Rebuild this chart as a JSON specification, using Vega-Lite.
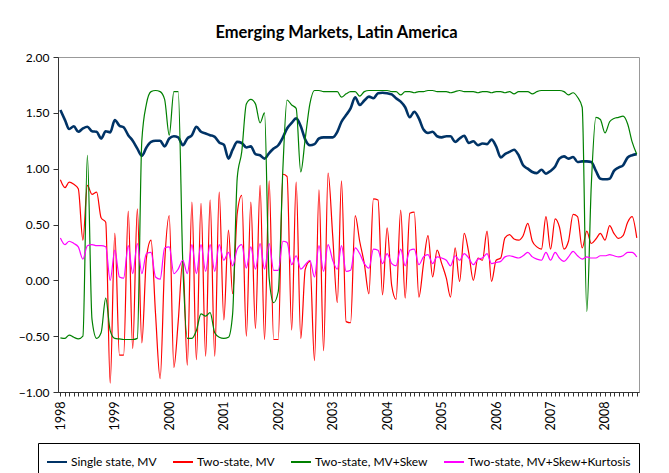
{
  "$schema": "https://vega.github.io/schema/vega-lite/v6.json",
  "width": 581,
  "height": 335,
  "autosize": {"type": "none"},
  "padding": {"left": 58, "top": 57, "right": 30, "bottom": 81},
  "background": "white",
  "title": {"text": "Emerging Markets, Latin America", "font": "Lato", "fontSize": 16.5, "fontWeight": "bold", "color": "black", "anchor": "middle", "offset": 10, "dx": -12},
  "data": {
    "format": {"parse": {"d": "date:'%Y-%m'"}},
    "values": [
      {"d":"1998-01","a":1.525,"b":0.90,"c":-0.515,"k":0.38},
      {"d":"1998-02","a":1.435,"b":0.83,"c":-0.52,"k":0.32},
      {"d":"1998-03","a":1.355,"b":0.88,"c":-0.49,"k":0.35},
      {"d":"1998-04","a":1.38,"b":0.86,"c":-0.51,"k":0.33},
      {"d":"1998-05","a":1.33,"b":0.82,"c":-0.525,"k":0.30},
      {"d":"1998-06","a":1.36,"b":0.36,"c":-0.50,"k":0.19},
      {"d":"1998-07","a":1.375,"b":0.85,"c":1.12,"k":0.31},
      {"d":"1998-08","a":1.335,"b":0.77,"c":-0.35,"k":0.32},
      {"d":"1998-09","a":1.33,"b":0.79,"c":-0.52,"k":0.31},
      {"d":"1998-10","a":1.27,"b":0.56,"c":-0.47,"k":0.31},
      {"d":"1998-11","a":1.335,"b":0.52,"c":-0.16,"k":0.30},
      {"d":"1998-12","a":1.325,"b":-0.92,"c":-0.45,"k":0.00},
      {"d":"1999-01","a":1.435,"b":0.42,"c":-0.52,"k":0.27},
      {"d":"1999-02","a":1.385,"b":-0.67,"c":-0.525,"k":0.03},
      {"d":"1999-03","a":1.37,"b":-0.67,"c":-0.53,"k":0.02},
      {"d":"1999-04","a":1.30,"b":0.62,"c":-0.53,"k":0.31},
      {"d":"1999-05","a":1.25,"b":-0.61,"c":-0.53,"k":0.06},
      {"d":"1999-06","a":1.18,"b":0.64,"c":-0.52,"k":0.33},
      {"d":"1999-07","a":1.115,"b":-0.56,"c":1.25,"k":0.06},
      {"d":"1999-08","a":1.19,"b":0.20,"c":1.58,"k":0.24},
      {"d":"1999-09","a":1.24,"b":0.36,"c":1.69,"k":0.25},
      {"d":"1999-10","a":1.25,"b":-0.30,"c":1.70,"k":0.03},
      {"d":"1999-11","a":1.25,"b":-0.88,"c":1.69,"k":0.01},
      {"d":"1999-12","a":1.20,"b":0.15,"c":1.62,"k":0.29},
      {"d":"2000-01","a":1.27,"b":0.58,"c":1.30,"k":0.30},
      {"d":"2000-02","a":1.29,"b":-0.78,"c":1.69,"k":0.06},
      {"d":"2000-03","a":1.28,"b":-0.37,"c":1.69,"k":0.10},
      {"d":"2000-04","a":1.21,"b":0.18,"c":0.15,"k":0.18},
      {"d":"2000-05","a":1.27,"b":-0.76,"c":-0.52,"k":0.06},
      {"d":"2000-06","a":1.30,"b":0.70,"c":-0.52,"k":0.32},
      {"d":"2000-07","a":1.375,"b":-0.71,"c":-0.45,"k":0.06},
      {"d":"2000-08","a":1.33,"b":0.69,"c":-0.30,"k":0.32},
      {"d":"2000-09","a":1.315,"b":-0.68,"c":-0.32,"k":0.08},
      {"d":"2000-10","a":1.30,"b":0.72,"c":-0.29,"k":0.32},
      {"d":"2000-11","a":1.285,"b":-0.68,"c":-0.47,"k":0.08},
      {"d":"2000-12","a":1.235,"b":0.79,"c":-0.51,"k":0.32},
      {"d":"2001-01","a":1.215,"b":-0.355,"c":-0.52,"k":0.18},
      {"d":"2001-02","a":1.09,"b":0.45,"c":-0.51,"k":0.25},
      {"d":"2001-03","a":1.17,"b":-0.12,"c":-0.30,"k":0.13},
      {"d":"2001-04","a":1.24,"b":0.60,"c":0.92,"k":0.28},
      {"d":"2001-05","a":1.23,"b":0.76,"c":1.15,"k":0.32},
      {"d":"2001-06","a":1.19,"b":-0.50,"c":1.58,"k":0.11},
      {"d":"2001-07","a":1.20,"b":0.70,"c":1.62,"k":0.30},
      {"d":"2001-08","a":1.13,"b":-0.43,"c":1.58,"k":0.10},
      {"d":"2001-09","a":1.12,"b":0.85,"c":1.41,"k":0.33},
      {"d":"2001-10","a":1.09,"b":-0.53,"c":1.50,"k":0.10},
      {"d":"2001-11","a":1.14,"b":0.89,"c":0.02,"k":0.33},
      {"d":"2001-12","a":1.18,"b":-0.53,"c":-0.20,"k":0.09},
      {"d":"2002-01","a":1.21,"b":-0.53,"c":-0.10,"k":0.09},
      {"d":"2002-02","a":1.28,"b":0.95,"c":1.00,"k":0.35},
      {"d":"2002-03","a":1.36,"b":0.93,"c":1.615,"k":0.34},
      {"d":"2002-04","a":1.41,"b":-0.445,"c":1.57,"k":0.14},
      {"d":"2002-05","a":1.45,"b":0.88,"c":1.54,"k":0.22},
      {"d":"2002-06","a":1.38,"b":-0.52,"c":0.97,"k":0.10},
      {"d":"2002-07","a":1.26,"b":0.10,"c":1.27,"k":0.14},
      {"d":"2002-08","a":1.21,"b":0.17,"c":1.58,"k":0.18},
      {"d":"2002-09","a":1.22,"b":-0.72,"c":1.70,"k":0.03},
      {"d":"2002-10","a":1.27,"b":0.81,"c":1.70,"k":0.31},
      {"d":"2002-11","a":1.28,"b":-0.63,"c":1.69,"k":0.08},
      {"d":"2002-12","a":1.28,"b":0.96,"c":1.69,"k":0.32},
      {"d":"2003-01","a":1.28,"b":0.40,"c":1.69,"k":0.18},
      {"d":"2003-02","a":1.33,"b":-0.20,"c":1.69,"k":0.10},
      {"d":"2003-03","a":1.42,"b":0.89,"c":1.64,"k":0.31},
      {"d":"2003-04","a":1.48,"b":-0.37,"c":1.67,"k":0.08},
      {"d":"2003-05","a":1.54,"b":-0.38,"c":1.69,"k":0.09},
      {"d":"2003-06","a":1.64,"b":0.58,"c":1.69,"k":0.29},
      {"d":"2003-07","a":1.57,"b":0.35,"c":1.65,"k":0.24},
      {"d":"2003-08","a":1.61,"b":0.15,"c":1.69,"k":0.15},
      {"d":"2003-09","a":1.645,"b":-0.12,"c":1.70,"k":0.11},
      {"d":"2003-10","a":1.63,"b":0.73,"c":1.70,"k":0.28},
      {"d":"2003-11","a":1.675,"b":0.72,"c":1.70,"k":0.27},
      {"d":"2003-12","a":1.68,"b":-0.13,"c":1.70,"k":0.15},
      {"d":"2004-01","a":1.675,"b":0.47,"c":1.70,"k":0.24},
      {"d":"2004-02","a":1.665,"b":-0.05,"c":1.69,"k":0.15},
      {"d":"2004-03","a":1.63,"b":-0.17,"c":1.69,"k":0.13},
      {"d":"2004-04","a":1.60,"b":0.63,"c":1.66,"k":0.28},
      {"d":"2004-05","a":1.55,"b":-0.16,"c":1.69,"k":0.13},
      {"d":"2004-06","a":1.46,"b":0.60,"c":1.69,"k":0.27},
      {"d":"2004-07","a":1.51,"b":0.61,"c":1.68,"k":0.28},
      {"d":"2004-08","a":1.45,"b":-0.15,"c":1.69,"k":0.14},
      {"d":"2004-09","a":1.35,"b":0.15,"c":1.69,"k":0.21},
      {"d":"2004-10","a":1.32,"b":0.40,"c":1.70,"k":0.23},
      {"d":"2004-11","a":1.33,"b":0.03,"c":1.70,"k":0.15},
      {"d":"2004-12","a":1.29,"b":0.27,"c":1.69,"k":0.21},
      {"d":"2005-01","a":1.28,"b":0.15,"c":1.69,"k":0.20},
      {"d":"2005-02","a":1.29,"b":0.02,"c":1.69,"k":0.18},
      {"d":"2005-03","a":1.29,"b":-0.15,"c":1.68,"k":0.13},
      {"d":"2005-04","a":1.24,"b":0.29,"c":1.69,"k":0.22},
      {"d":"2005-05","a":1.27,"b":-0.01,"c":1.70,"k":0.18},
      {"d":"2005-06","a":1.295,"b":0.42,"c":1.69,"k":0.24},
      {"d":"2005-07","a":1.23,"b":0.25,"c":1.69,"k":0.20},
      {"d":"2005-08","a":1.245,"b":0.00,"c":1.69,"k":0.14},
      {"d":"2005-09","a":1.21,"b":0.20,"c":1.68,"k":0.19},
      {"d":"2005-10","a":1.225,"b":0.18,"c":1.69,"k":0.20},
      {"d":"2005-11","a":1.22,"b":0.44,"c":1.69,"k":0.24},
      {"d":"2005-12","a":1.26,"b":-0.01,"c":1.68,"k":0.15},
      {"d":"2006-01","a":1.20,"b":0.18,"c":1.69,"k":0.16},
      {"d":"2006-02","a":1.10,"b":0.20,"c":1.69,"k":0.17},
      {"d":"2006-03","a":1.13,"b":0.38,"c":1.68,"k":0.21},
      {"d":"2006-04","a":1.15,"b":0.41,"c":1.69,"k":0.22},
      {"d":"2006-05","a":1.17,"b":0.37,"c":1.67,"k":0.21},
      {"d":"2006-06","a":1.12,"b":0.36,"c":1.69,"k":0.20},
      {"d":"2006-07","a":1.03,"b":0.40,"c":1.69,"k":0.22},
      {"d":"2006-08","a":1.00,"b":0.51,"c":1.69,"k":0.25},
      {"d":"2006-09","a":0.97,"b":0.35,"c":1.67,"k":0.21},
      {"d":"2006-10","a":0.96,"b":0.30,"c":1.69,"k":0.19},
      {"d":"2006-11","a":0.99,"b":0.28,"c":1.70,"k":0.18},
      {"d":"2006-12","a":0.955,"b":0.57,"c":1.70,"k":0.25},
      {"d":"2007-01","a":0.98,"b":0.28,"c":1.70,"k":0.18},
      {"d":"2007-02","a":1.02,"b":0.55,"c":1.70,"k":0.25},
      {"d":"2007-03","a":1.09,"b":0.48,"c":1.70,"k":0.20},
      {"d":"2007-04","a":1.11,"b":0.28,"c":1.69,"k":0.17},
      {"d":"2007-05","a":1.09,"b":0.35,"c":1.66,"k":0.21},
      {"d":"2007-06","a":1.105,"b":0.59,"c":1.68,"k":0.26},
      {"d":"2007-07","a":1.06,"b":0.57,"c":1.64,"k":0.22},
      {"d":"2007-08","a":1.065,"b":0.29,"c":1.55,"k":0.19},
      {"d":"2007-09","a":1.065,"b":0.44,"c":-0.28,"k":0.21},
      {"d":"2007-10","a":1.06,"b":0.33,"c":0.85,"k":0.20},
      {"d":"2007-11","a":0.98,"b":0.37,"c":1.46,"k":0.20},
      {"d":"2007-12","a":0.91,"b":0.42,"c":1.44,"k":0.22},
      {"d":"2008-01","a":0.905,"b":0.36,"c":1.32,"k":0.22},
      {"d":"2008-02","a":0.91,"b":0.49,"c":1.42,"k":0.23},
      {"d":"2008-03","a":0.98,"b":0.42,"c":1.45,"k":0.22},
      {"d":"2008-04","a":1.01,"b":0.375,"c":1.46,"k":0.21},
      {"d":"2008-05","a":1.03,"b":0.40,"c":1.47,"k":0.22},
      {"d":"2008-06","a":1.10,"b":0.52,"c":1.40,"k":0.25},
      {"d":"2008-07","a":1.12,"b":0.57,"c":1.24,"k":0.25},
      {"d":"2008-08","a":1.13,"b":0.38,"c":1.13,"k":0.21}
    ]
  },
  "transform": [{"fold": ["a", "b", "c", "k"], "as": ["s", "v"]}],
  "mark": {"type": "line", "interpolate": "monotone"},
  "encoding": {
    "x": {
      "field": "d", "type": "temporal",
      "scale": {"domain": [{"year": 1997, "month": 12, "date": 16}, {"year": 2008, "month": 8, "date": 16}]},
      "axis": {
        "title": null,
        "tickCount": {"interval": "month", "step": 1},
        "labelExpr": "month(datum.value) == 0 ? timeFormat(datum.value, '%Y') : ''",
        "labelAngle": -90, "labelAlign": "right", "labelBaseline": "middle",
        "labelOverlap": false, "labelBound": false, "labelFlush": false,
        "labelFont": "Lato", "labelFontSize": 12.5, "labelColor": "black", "labelPadding": 5,
        "tickSize": 4, "tickColor": "#333", "domainColor": "#333", "grid": false
      }
    },
    "y": {
      "field": "v", "type": "quantitative",
      "scale": {"domain": [-1, 2], "nice": false, "zero": false},
      "axis": {
        "title": null, "values": [-1, -0.5, 0, 0.5, 1, 1.5, 2], "format": ".2f", "grid": false,
        "labelFont": "Lato", "labelFontSize": 12, "labelColor": "black", "labelPadding": 4,
        "tickSize": 5, "tickColor": "#333", "domainColor": "#333"
      }
    },
    "color": {
      "field": "s", "type": "nominal",
      "scale": {"domain": ["a", "b", "c", "k"], "range": ["#003366", "#FF0000", "#008000", "#FF00FF"]},
      "legend": {
        "title": null, "orient": "none", "legendX": -20, "legendY": 386,
        "direction": "horizontal", "columns": 4, "columnPadding": 12,
        "symbolType": "stroke", "symbolSize": 400, "symbolStrokeWidth": 2,
        "labelFont": "Lato", "labelFontSize": 12, "labelColor": "black", "labelOffset": 3, "labelLimit": 0,
        "strokeColor": "black", "fillColor": "white", "padding": 8,
        "labelExpr": "{'a': 'Single state, MV', 'b': 'Two-state, MV', 'c': 'Two-state, MV+Skew', 'k': 'Two-state, MV+Skew+Kurtosis'}[datum.label]"
      }
    },
    "strokeWidth": {"condition": {"test": "datum.s == 'a'", "value": 2.6}, "value": 1.2}
  },
  "config": {"view": {"stroke": "#999", "strokeWidth": 1}}
}
